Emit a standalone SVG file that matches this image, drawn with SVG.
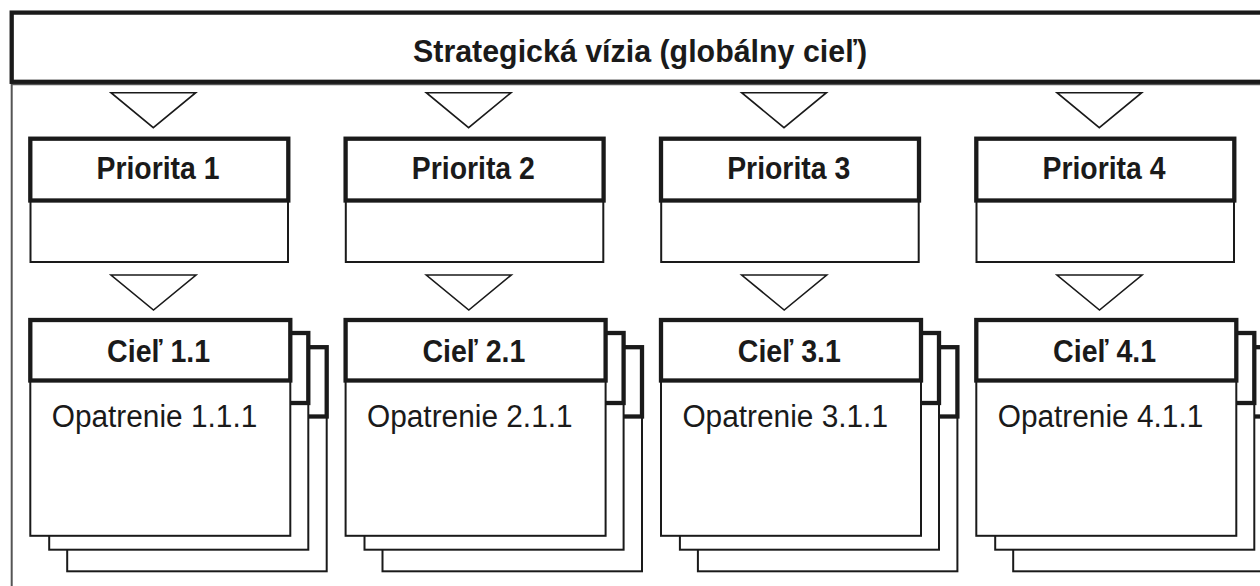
<svg xmlns="http://www.w3.org/2000/svg" width="1260" height="586" viewBox="0 0 1260 586">
<style>
.bg{fill:#ffffff}
.thick{fill:#ffffff;stroke:#1a1a1a;stroke-width:4.3}
.thin{fill:#ffffff;stroke:#1a1a1a;stroke-width:2}
.frame{fill:none;stroke:#555555;stroke-width:2}
.tri{fill:#ffffff;stroke:#1a1a1a;stroke-width:1.6;stroke-linejoin:miter}
.t{font-family:"Liberation Sans",Arial,sans-serif;fill:#1a1a1a;text-anchor:middle}
.title{font-size:31px;font-weight:bold}
.pri{font-size:32px;font-weight:bold}
.ciel{font-size:32px;font-weight:bold}
.opa{font-size:31px}
</style>
<rect class="bg" x="0" y="0" width="1260" height="586"/>
<g id="frame">
<line class="frame" x1="11.7" y1="82" x2="11.7" y2="590"/>
<line x1="11" y1="84.6" x2="1270" y2="84.6" stroke="#555555" stroke-width="1.5"/>
</g>
<g id="vision">
<rect class="thick" x="11.7" y="12.6" width="1260" height="69.2"/>
<text class="t title" x="640" y="62" textLength="454" lengthAdjust="spacingAndGlyphs">Strategická vízia (globálny cieľ)</text>
</g>
<g id="connectors">
<polygon class="tri" points="111,92.7 195.7,92.7 153.3,127.7"/>
<polygon class="tri" points="426.3,92.7 511,92.7 468.6,127.7"/>
<polygon class="tri" points="741.7,92.7 826.4,92.7 784,127.7"/>
<polygon class="tri" points="1057,92.7 1141.7,92.7 1099.3,127.7"/>
<polygon class="tri" points="111,275 196,275 153.5,310"/>
<polygon class="tri" points="426.3,275 511.3,275 468.8,310"/>
<polygon class="tri" points="741.7,275 826.7,275 784.2,310"/>
<polygon class="tri" points="1057,275 1142,275 1099.5,310"/>
</g>
<g id="priorita1">
<rect class="thin" x="30.5" y="200.5" width="257.5" height="61.5"/>
<rect class="thick" x="30.3" y="138.7" width="258" height="61.8"/>
<text class="t pri" x="158" y="179.3" textLength="123" lengthAdjust="spacingAndGlyphs">Priorita 1</text>
</g>
<g id="priorita2">
<rect class="thin" x="345.8" y="200.5" width="257.5" height="61.5"/>
<rect class="thick" x="345.6" y="138.7" width="258" height="61.8"/>
<text class="t pri" x="473.3" y="179.3" textLength="123" lengthAdjust="spacingAndGlyphs">Priorita 2</text>
</g>
<g id="priorita3">
<rect class="thin" x="661.2" y="200.5" width="257.5" height="61.5"/>
<rect class="thick" x="661" y="138.7" width="258" height="61.8"/>
<text class="t pri" x="788.7" y="179.3" textLength="123" lengthAdjust="spacingAndGlyphs">Priorita 3</text>
</g>
<g id="priorita4">
<rect class="thin" x="976.5" y="200.5" width="257.5" height="61.5"/>
<rect class="thick" x="976.3" y="138.7" width="258" height="61.8"/>
<text class="t pri" x="1104" y="179.3" textLength="123" lengthAdjust="spacingAndGlyphs">Priorita 4</text>
</g>
<g id="ciel1">
<rect class="thin" x="67.2" y="416.5" width="259.5" height="154.8"/>
<rect class="thick" x="67.2" y="347.2" width="259.5" height="69.3"/>
<rect class="thin" x="49.2" y="403" width="259.1" height="146.7"/>
<rect class="thick" x="49.2" y="333" width="259.1" height="70"/>
<rect class="thin" x="30.3" y="380.5" width="260" height="155.3"/>
<rect class="thick" x="30.3" y="320" width="260" height="60.5"/>
<text class="t ciel" x="158.6" y="361.5" textLength="103" lengthAdjust="spacingAndGlyphs">Cieľ 1.1</text>
<text class="t opa" x="154.5" y="426.7" textLength="205.6" lengthAdjust="spacingAndGlyphs">Opatrenie 1.1.1</text>
</g>
<g id="ciel2">
<rect class="thin" x="382.5" y="416.5" width="259.5" height="154.8"/>
<rect class="thick" x="382.5" y="347.2" width="259.5" height="69.3"/>
<rect class="thin" x="364.5" y="403" width="259.1" height="146.7"/>
<rect class="thick" x="364.5" y="333" width="259.1" height="70"/>
<rect class="thin" x="345.6" y="380.5" width="260" height="155.3"/>
<rect class="thick" x="345.6" y="320" width="260" height="60.5"/>
<text class="t ciel" x="473.9" y="361.5" textLength="103" lengthAdjust="spacingAndGlyphs">Cieľ 2.1</text>
<text class="t opa" x="469.8" y="426.7" textLength="205.6" lengthAdjust="spacingAndGlyphs">Opatrenie 2.1.1</text>
</g>
<g id="ciel3">
<rect class="thin" x="697.9" y="416.5" width="259.5" height="154.8"/>
<rect class="thick" x="697.9" y="347.2" width="259.5" height="69.3"/>
<rect class="thin" x="679.9" y="403" width="259.1" height="146.7"/>
<rect class="thick" x="679.9" y="333" width="259.1" height="70"/>
<rect class="thin" x="661" y="380.5" width="260" height="155.3"/>
<rect class="thick" x="661" y="320" width="260" height="60.5"/>
<text class="t ciel" x="789.3" y="361.5" textLength="103" lengthAdjust="spacingAndGlyphs">Cieľ 3.1</text>
<text class="t opa" x="785.2" y="426.7" textLength="205.6" lengthAdjust="spacingAndGlyphs">Opatrenie 3.1.1</text>
</g>
<g id="ciel4">
<rect class="thin" x="1013.2" y="416.5" width="259.5" height="154.8"/>
<rect class="thick" x="1013.2" y="347.2" width="259.5" height="69.3"/>
<rect class="thin" x="995.2" y="403" width="259.1" height="146.7"/>
<rect class="thick" x="995.2" y="333" width="259.1" height="70"/>
<rect class="thin" x="976.3" y="380.5" width="260" height="155.3"/>
<rect class="thick" x="976.3" y="320" width="260" height="60.5"/>
<text class="t ciel" x="1104.6" y="361.5" textLength="103" lengthAdjust="spacingAndGlyphs">Cieľ 4.1</text>
<text class="t opa" x="1100.5" y="426.7" textLength="205.6" lengthAdjust="spacingAndGlyphs">Opatrenie 4.1.1</text>
</g>
</svg>
